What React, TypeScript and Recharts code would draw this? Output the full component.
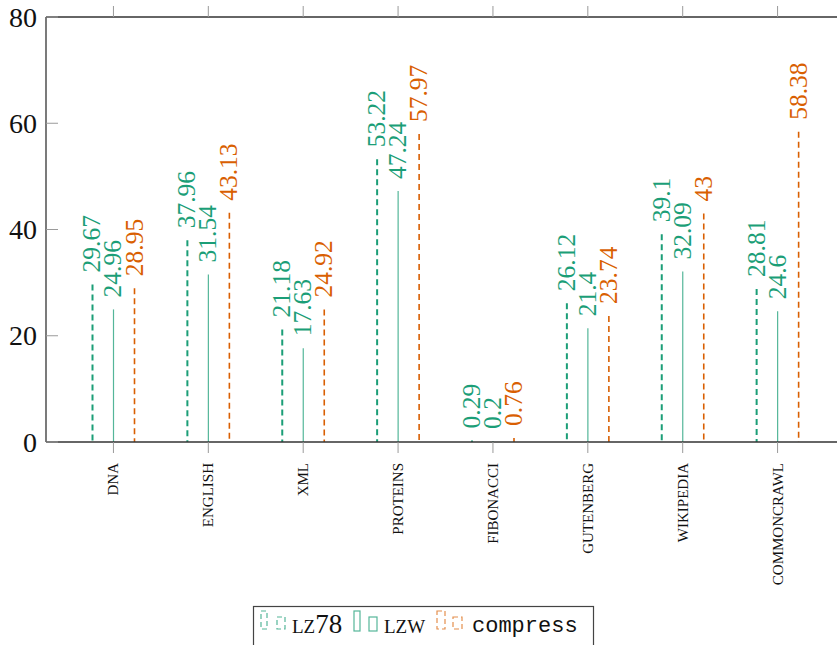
import React from 'react';
import { BarChart, Bar, XAxis, YAxis, Legend } from 'recharts';

// Compression ratios per dataset
const categories = ['DNA', 'ENGLISH', 'XML', 'PROTEINS', 'FIBONACCI', 'GUTENBERG', 'WIKIPEDIA', 'COMMONCRAWL'];
const lz78 = [29.67, 37.96, 21.18, 53.22, 0.29, 26.12, 39.1, 28.81];
const lzw = [24.96, 31.54, 17.63, 47.24, 0.2, 21.4, 32.09, 24.6];
const compress = [28.95, 43.13, 24.92, 57.97, 0.76, 23.74, 43, 58.38];
const yTicks = [0, 20, 40, 60, 80];

const GREEN = '#1b9e77';
const ORANGE = '#d95f02';
const SERIF = '"Liberation Serif", "DejaVu Serif", serif';
const MONO = '"Liberation Mono", "DejaVu Sans Mono", monospace';

const data = categories.map((name, i) => ({
  name,
  lz78: lz78[i],
  lzw: lzw[i],
  compress: compress[i],
}));

// Each bar is drawn as a thin vertical stroke with its value written above it
const makeShape = (key: string, color: string, width: number, dash?: string, opacity = 1) =>
  (props: any) => {
    const { x, y, width: w, height, payload } = props;
    const cx = x + w / 2;
    const value = payload[key];
    const top = y;
    return (
      <g>
        <line
          x1={cx}
          x2={cx}
          y1={top}
          y2={y + height}
          stroke={color}
          strokeWidth={width}
          strokeDasharray={dash}
          strokeOpacity={opacity}
        />
        <text
          x={cx + 8}
          y={top - 12}
          transform={`rotate(-90, ${cx + 8}, ${top - 12})`}
          textAnchor="start"
          style={{ fontFamily: SERIF, fontSize: 25.5 }}
          fill={color}
        >
          {String(value)}
        </text>
      </g>
    );
  };

const YTick = (props: any) => {
  const { x, y, payload } = props;
  return (
    <g>
      <line x1={x} x2={x + 12} y1={y} y2={y} stroke="#9a9a9a" strokeWidth={1} />
      <text
        x={x - 9}
        y={y}
        dy="0.34em"
        textAnchor="end"
        style={{ fontFamily: SERIF, fontSize: 28 }}
        fill="#111"
      >
        {payload.value}
      </text>
    </g>
  );
};

const XTick = (props: any) => {
  const { x, y, payload } = props;
  const bx = x + 5;
  return (
    <text
      x={bx}
      y={y}
      transform={`rotate(-90, ${bx}, ${y})`}
      textAnchor="end"
      style={{ fontFamily: SERIF, fontSize: 15 }}
      fill="#111"
    >
      {payload.value}
    </text>
  );
};

const EmptyTick = () => <g />;

const LegendBox = () => (
  <svg width={345} height={45} style={{ display: 'block', overflow: 'visible' }}>
    <rect x={0.5} y={0.5} width={340} height={60} fill="#fff" stroke="#444" strokeWidth={1.2} />
    {/* LZ78 */}
    <rect x={8} y={5} width={6} height={18} fill="none" stroke={GREEN} strokeOpacity={0.75} strokeDasharray="5 3" strokeWidth={1.2} />
    <rect x={24} y={11} width={8} height={12} fill="none" stroke={GREEN} strokeOpacity={0.75} strokeDasharray="5 3" strokeWidth={1.2} />
    <text x={39} y={27} style={{ fontFamily: SERIF }} fill="#111">
      <tspan style={{ fontSize: 19 }}>LZ</tspan>
      <tspan style={{ fontSize: 27 }}>78</tspan>
    </text>
    {/* LZW */}
    <rect x={101} y={5} width={6} height={20} fill="none" stroke={GREEN} strokeOpacity={0.75} strokeWidth={1.2} />
    <rect x={116} y={11} width={8} height={14} fill="none" stroke={GREEN} strokeOpacity={0.75} strokeWidth={1.2} />
    <text x={131} y={27} style={{ fontFamily: SERIF, fontSize: 19 }} fill="#111">
      LZW
    </text>
    {/* compress */}
    <rect x={184} y={5} width={8} height={18} fill="none" stroke={ORANGE} strokeOpacity={0.7} strokeDasharray="5 3" strokeWidth={1.2} />
    <rect x={200} y={11} width={9} height={12} fill="none" stroke={ORANGE} strokeOpacity={0.7} strokeDasharray="5 3" strokeWidth={1.2} />
    <text x={219} y={26} style={{ fontFamily: MONO, fontSize: 22 }} fill="#111">
      compress
    </text>
  </svg>
);

export default function App() {
  return (
    <div
      style={{
        position: 'absolute',
        left: 0,
        top: 0,
        width: 837,
        height: 645,
        overflow: 'hidden',
        background: '#fff',
      }}
    >
      <BarChart
        width={850}
        height={645}
        data={data}
        margin={{ top: 16, right: 12, left: 0, bottom: 0 }}
        barSize={3}
        barGap={18}
      >
        <XAxis
          dataKey="name"
          interval={0}
          height={203}
          padding={{ left: 20, right: 13 }}
          axisLine={{ stroke: '#333', strokeWidth: 1.3 }}
          tickLine={{ stroke: '#9a9a9a', strokeWidth: 1 }}
          tickSize={11}
          tickMargin={10}
          tick={<XTick />}
        />
        <XAxis
          xAxisId="top"
          dataKey="name"
          orientation="top"
          interval={0}
          height={1}
          padding={{ left: 20, right: 13 }}
          axisLine={{ stroke: '#333', strokeWidth: 1.3 }}
          tickLine={{ stroke: '#9a9a9a', strokeWidth: 1 }}
          tickSize={11}
          tick={<EmptyTick />}
        />
        <YAxis
          type="number"
          domain={[0, 80]}
          ticks={yTicks}
          width={46}
          axisLine={{ stroke: '#333', strokeWidth: 1.3 }}
          tickLine={false}
          tickSize={0}
          tickMargin={0}
          tick={<YTick />}
        />
        <Legend
          layout="horizontal"
          verticalAlign="middle"
          align="center"
          wrapperStyle={{ position: 'absolute', left: 253, top: 606, width: 345, height: 45 }}
          content={() => <LegendBox />}
        />
        <Bar
          dataKey="lz78"
          name="LZ78"
          fill={GREEN}
          isAnimationActive={false}
          shape={makeShape('lz78', GREEN, 2, '6 4')}
        />
        <Bar
          dataKey="lzw"
          name="LZW"
          fill={GREEN}
          isAnimationActive={false}
          shape={makeShape('lzw', GREEN, 1.2, undefined, 0.75)}
        />
        <Bar
          dataKey="compress"
          name="compress"
          fill={ORANGE}
          isAnimationActive={false}
          shape={makeShape('compress', ORANGE, 1.6, '6 4')}
        />
      </BarChart>
    </div>
  );
}
